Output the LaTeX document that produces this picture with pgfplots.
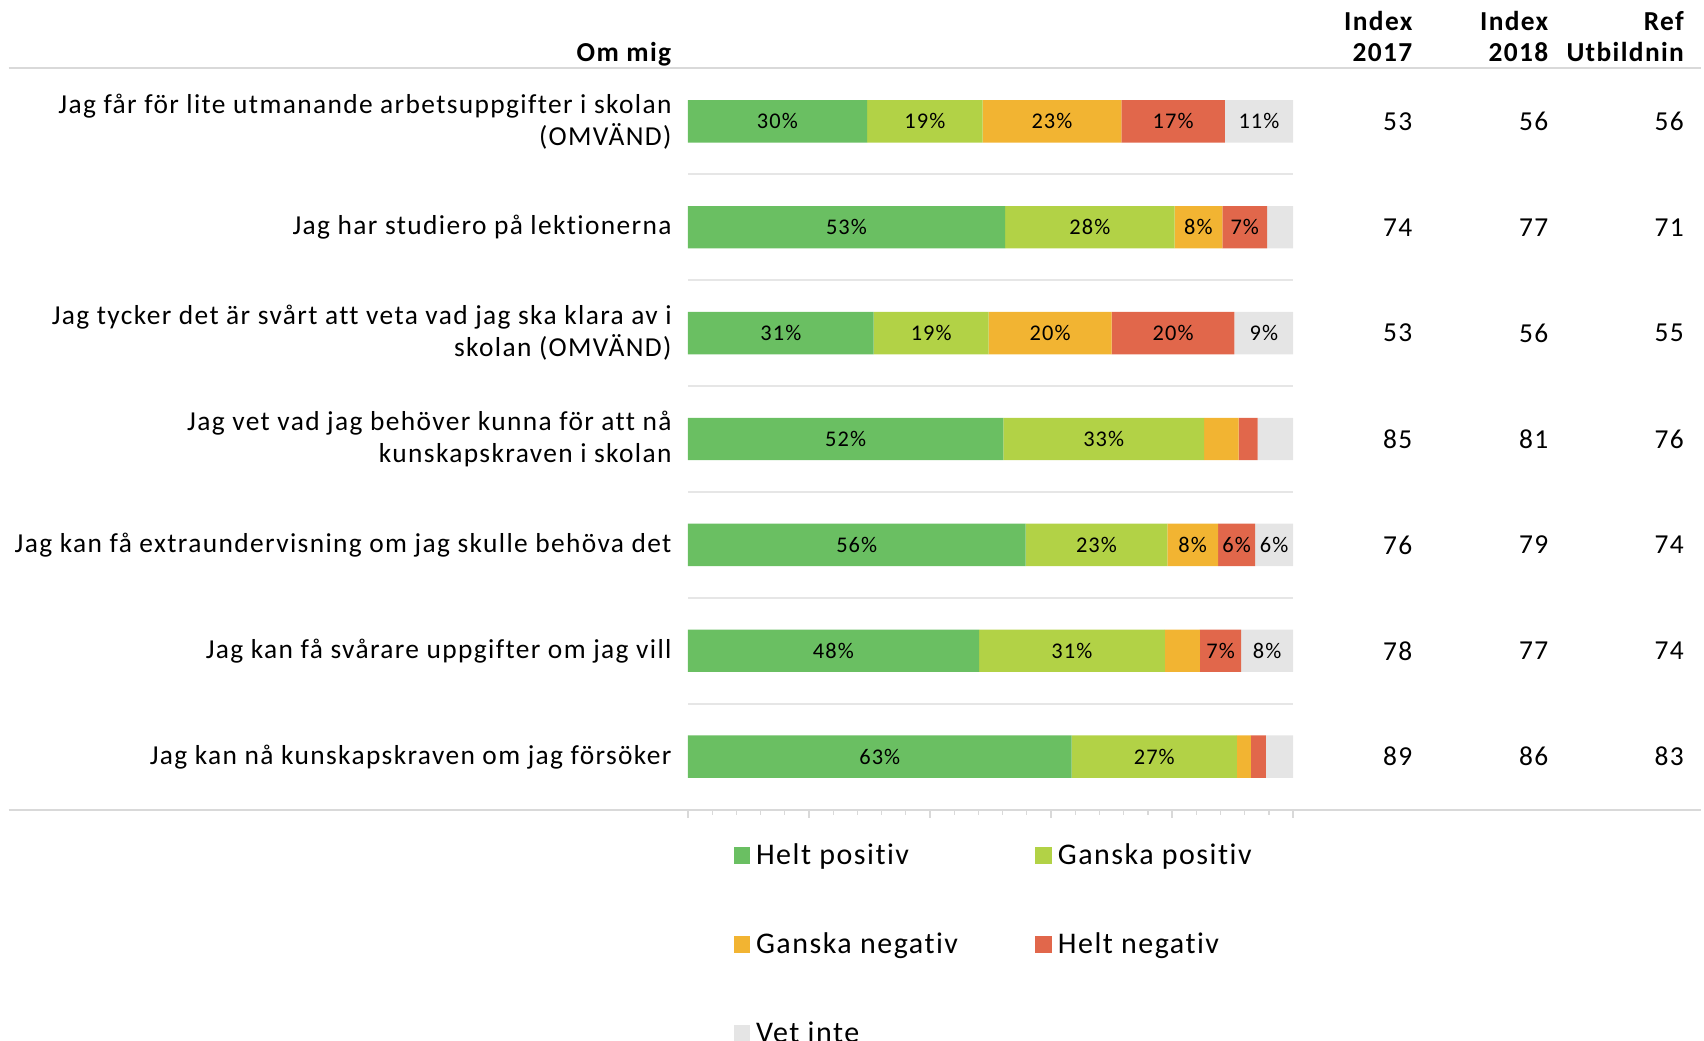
\documentclass[border=0pt]{standalone}
\usepackage{pgfplots}
\pgfplotsset{compat=1.18}
\usepackage{fontspec}
\setmainfont{Carlito}[LetterSpace=5, Ligatures={NoCommon}]
\definecolor{cHP}{RGB}{106,191,98}
\definecolor{cGP}{RGB}{178,210,70}
\definecolor{cGN}{RGB}{242,180,50}
\definecolor{cHN}{RGB}{225,103,75}
\definecolor{cVI}{RGB}{229,229,229}
\definecolor{lineg}{RGB}{217,217,217}
\definecolor{gridg}{RGB}{230,230,230}
\newcommand{\mainfs}{\fontsize{13.7}{16}\selectfont}
\begin{document}
\begin{tikzpicture}
\useasboundingbox (-343.95pt,-115.2pt) rectangle (508.05pt,404.8pt);
\begin{axis}[
  at={(0,0)}, anchor=south west,
  scale only axis, width=302.66pt, height=370.6pt,
  xbar stacked, bar width=0.4,
  xmin=0, xmax=100, ymin=0.5, ymax=7.5,
  clip=false,
  axis line style={draw=none},
  xtick={0,20,...,100}, minor x tick num=4, xticklabels={},
  xtick pos=left, ytick pos=left, tick align=outside,
  major tick length=4pt, minor tick length=2.5pt,
  x tick style={draw=lineg, line width=0.8pt},
  minor x tick style={draw=lineg, line width=0.6pt},
  ytick={1,...,7},
  y tick style={draw=none},
  yticklabels={
    {Jag kan nå kunskapskraven om jag försöker},
    {Jag kan få svårare uppgifter om jag vill},
    {Jag kan få extraundervisning om jag skulle behöva det},
    {Jag vet vad jag behöver kunna för att nå\\kunskapskraven i skolan},
    {Jag tycker det är svårt att veta vad jag ska klara av i\\skolan (OMVÄND)},
    {Jag har studiero på lektionerna},
    {Jag får för lite utmanande arbetsuppgifter i skolan\\(OMVÄND)}},
  yticklabel style={align=right, font=\mainfs, inner sep=0pt, xshift=-4pt},
  extra y ticks={1.5,2.5,3.5,4.5,5.5,6.5},
  extra y tick labels={},
  extra y tick style={grid=major, major grid style={draw=gridg, line width=0.8pt}},
  point meta=explicit symbolic,
  nodes near coords,
  every node near coord/.append style={anchor=center, inner sep=0pt,
     font=\fontsize{11.2}{13}\selectfont, text=black},
  legend columns=2,
  legend cell align=left,
  legend image code/.code={\fill[#1] (0pt,-4.1pt) rectangle (8.2pt,4.1pt);},
  legend style={draw=none, fill=none, at={(axis cs:7.5,0.5)}, anchor=north west,
     yshift=-14.7pt, inner sep=0pt, font=\fontsize{15}{17}\selectfont,
     row sep=28.7pt},
]
\addplot[fill=cHP, draw=none] coordinates {(29.6,7)[30\%] (52.4,6)[53\%] (30.7,5)[31\%] (52.1,4)[52\%] (55.8,3)[56\%] (48.1,2)[48\%] (63.4,1)[63\%]};
\addlegendentry{\makebox[138.7pt][l]{\hspace{1pt}Helt positiv}}
\addplot[fill=cGP, draw=none] coordinates {(19.1,7)[19\%] (28.0,6)[28\%] (19.0,5)[19\%] (33.2,4)[33\%] (23.4,3)[23\%] (30.7,2)[31\%] (27.3,1)[27\%]};
\addlegendentry{\hspace{1pt}Ganska positiv}
\addplot[fill=cGN, draw=none] coordinates {(22.9,7)[23\%] (7.9,6)[8\%] (20.3,5)[20\%] (5.7,4)[{}] (8.4,3)[8\%] (5.8,2)[{}] (2.3,1)[{}]};
\addlegendentry{\makebox[138.7pt][l]{\hspace{1pt}Ganska negativ}}
\addplot[fill=cHN, draw=none] coordinates {(17.1,7)[17\%] (7.4,6)[7\%] (20.3,5)[20\%] (3.1,4)[{}] (6.1,3)[6\%] (6.8,2)[7\%] (2.5,1)[{}]};
\addlegendentry{\hspace{1pt}Helt negativ}
\addplot[fill=cVI, draw=none] coordinates {(11.3,7)[11\%] (4.3,6)[{}] (9.7,5)[9\%] (5.9,4)[{}] (6.3,3)[6\%] (8.6,2)[8\%] (4.5,1)[{}]};
\addlegendentry{\makebox[138.7pt][l]{\hspace{1pt}Vet inte}}
% frame lines
\draw[lineg, line width=1pt] (axis cs:-112.2,7.5) -- (axis cs:167.3,7.5);
\draw[lineg, line width=1pt] (axis cs:-112.2,0.5) -- (axis cs:167.3,0.5);
% headers
\node[anchor=base east, font=\mainfs\bfseries, inner sep=0pt] at (axis cs:-2.7,7.562) {Om mig};
\node[anchor=base east, font=\mainfs\bfseries, inner sep=0pt] at (axis cs:119.75,7.859) {Index};
\node[anchor=base east, font=\mainfs\bfseries, inner sep=0pt] at (axis cs:119.75,7.562) {2017};
\node[anchor=base east, font=\mainfs\bfseries, inner sep=0pt] at (axis cs:142.2,7.859) {Index};
\node[anchor=base east, font=\mainfs\bfseries, inner sep=0pt] at (axis cs:142.2,7.562) {2018};
\node[anchor=base east, font=\mainfs\bfseries, inner sep=0pt] at (axis cs:164.6,7.859) {Ref};
\node[anchor=base east, font=\mainfs\bfseries, inner sep=0pt] at (axis cs:164.6,7.562) {Utbildnin};
% index values
\node[anchor=east, font=\mainfs, inner sep=0pt] at (axis cs:119.75,7) {53};
\node[anchor=east, font=\mainfs, inner sep=0pt] at (axis cs:119.75,6) {74};
\node[anchor=east, font=\mainfs, inner sep=0pt] at (axis cs:119.75,5) {53};
\node[anchor=east, font=\mainfs, inner sep=0pt] at (axis cs:119.75,4) {85};
\node[anchor=east, font=\mainfs, inner sep=0pt] at (axis cs:119.75,3) {76};
\node[anchor=east, font=\mainfs, inner sep=0pt] at (axis cs:119.75,2) {78};
\node[anchor=east, font=\mainfs, inner sep=0pt] at (axis cs:119.75,1) {89};
\node[anchor=east, font=\mainfs, inner sep=0pt] at (axis cs:142.2,7) {56};
\node[anchor=east, font=\mainfs, inner sep=0pt] at (axis cs:142.2,6) {77};
\node[anchor=east, font=\mainfs, inner sep=0pt] at (axis cs:142.2,5) {56};
\node[anchor=east, font=\mainfs, inner sep=0pt] at (axis cs:142.2,4) {81};
\node[anchor=east, font=\mainfs, inner sep=0pt] at (axis cs:142.2,3) {79};
\node[anchor=east, font=\mainfs, inner sep=0pt] at (axis cs:142.2,2) {77};
\node[anchor=east, font=\mainfs, inner sep=0pt] at (axis cs:142.2,1) {86};
\node[anchor=east, font=\mainfs, inner sep=0pt] at (axis cs:164.6,7) {56};
\node[anchor=east, font=\mainfs, inner sep=0pt] at (axis cs:164.6,6) {71};
\node[anchor=east, font=\mainfs, inner sep=0pt] at (axis cs:164.6,5) {55};
\node[anchor=east, font=\mainfs, inner sep=0pt] at (axis cs:164.6,4) {76};
\node[anchor=east, font=\mainfs, inner sep=0pt] at (axis cs:164.6,3) {74};
\node[anchor=east, font=\mainfs, inner sep=0pt] at (axis cs:164.6,2) {74};
\node[anchor=east, font=\mainfs, inner sep=0pt] at (axis cs:164.6,1) {83};
\end{axis}
\end{tikzpicture}
\end{document}
